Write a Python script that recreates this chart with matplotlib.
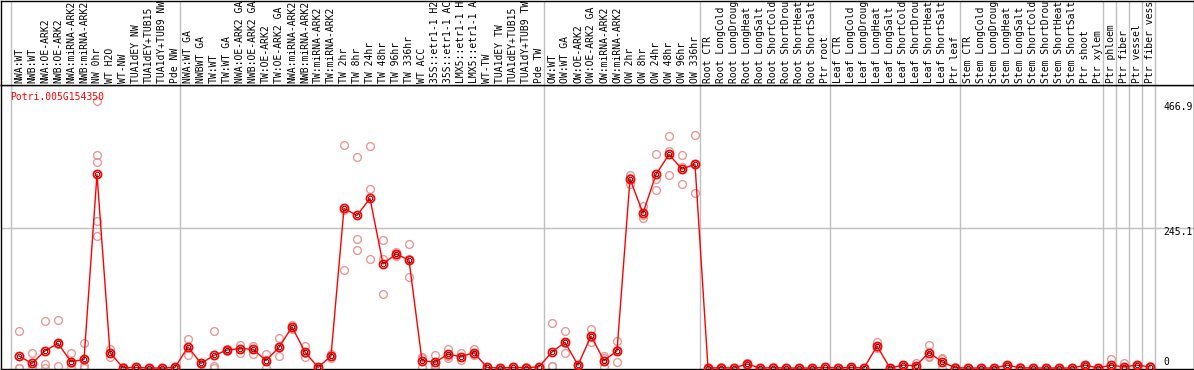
import matplotlib
matplotlib.use("Agg")
import matplotlib.pyplot as plt

title = "Potri.005G154350"

labels = [
    "NWA:WT", "NWB:WT", "NWA:OE-ARK2", "NWB:OE-ARK2", "NWA:miRNA-ARK2", "NWB:miRNA-ARK2",
    "NW 0hr", "WT H2O", "WT-NW", "TUA1dEY NW", "TUA1dEY+TUB15", "TUA1dY+TUB9 NW", "Pde NW",
    "NWA:WT GA", "NWBWT GA", "TW:WT", "TW:WT GA", "NWA:OE-ARK2 GA", "NWB:OE-ARK2 GA",
    "TW:OE-ARK2", "TW:OE-ARK2 GA", "NWA:miRNA-ARK2", "NWB:miRNA-ARK2", "TW:miRNA-ARK2",
    "TW:miRNA-ARK2", "TW 2hr", "TW 8hr", "TW 24hr", "TW 48hr", "TW 96hr", "TW 336hr",
    "WT ACC", "35S::etr1-1 H2O", "35S::etr1-1 ACC", "LMX5::etr1-1 H2O", "LMX5::etr1-1 ACC",
    "WT-TW", "TUA1dEY TW", "TUA1dEY+TUB15", "TUA1dY+TUB9 TW", "Pde TW",
    "OW:WT", "OW:WT GA", "OW:OE-ARK2", "OW:OE-ARK2 GA", "OW:miRNA-ARK2", "OW:miRNA-ARK2",
    "OW 2hr", "OW 8hr", "OW 24hr", "OW 48hr", "OW 96hr", "OW 336hr",
    "Root CTR", "Root LongCold", "Root LongDrought", "Root LongHeat", "Root LongSalt",
    "Root ShortCold", "Root ShortDrought", "Root ShortHeat", "Root ShortSalt", "Ptr root",
    "Leaf CTR", "Leaf LongCold", "Leaf LongDrought", "Leaf LongHeat", "Leaf LongSalt",
    "Leaf ShortCold", "Leaf ShortDrought", "Leaf ShortHeat", "Leaf ShortSalt", "Ptr leaf",
    "Stem CTR", "Stem LongCold", "Stem LongDrought", "Stem LongHeat", "Stem LongSalt",
    "Stem ShortCold", "Stem ShortDrought", "Stem ShortHeat", "Stem ShortSalt", "Ptr shoot",
    "Ptr xylem", "Ptr phloem", "Ptr fiber", "Ptr vessel", "Ptr fiber vessel",
]

# group start indices (separator lines drawn before these)
group_starts = [0, 13, 41, 53, 63, 73, 84, 85, 86, 87, 88]

means = [
    21, 8, 30, 43, 11, 15, 339, 27, 0.5, 1, 0, 0, 1,
    37, 8, 22, 31.5, 34, 33, 13, 36, 72, 28, 1, 21,
    279.5, 267, 297, 182, 199.6, 189, 13, 10, 24, 20, 27, 1, 0, 1, 0.5, 2,
    28, 45, 5, 56, 13, 30, 331, 271, 339, 374, 348, 357,
    0, 0.5, 0, 7, 0, 0.5, 0, 0, 0, 1,
    0, 1, 0, 38.5, 0, 5, 4, 27, 11, 0.5,
    0, 0, 0, 5, 0.5, 0, 0, 0, 0, 5, 0,
    5, 2, 5, 2,
]

replicates = [
    [65, 0, 0], [26, 0, 0], [82, 7, 0], [84, 3.5, 42], [26, 9, 0], [43, 4, 0],
    [466.9, 373, 361, 257, 231], [34, 20, 27], [0, 0, 1], [1, 1, 0], [0, 0, 0], [0, 0, 0], [1, 1, 0],
    [51, 22, 37], [9, 8, 7], [65, 3.5, 0], [33, 30, 31], [40, 27, 34], [39, 25, 34],
    [24.5, 0, 14], [52, 21, 36], [68, 72, 76], [38.5, 19, 27], [1, 1, 0], [24.5, 17, 21],
    [390, 276.6, 171], [369, 226, 206], [388.7, 312.8, 190.8], [224, 191, 129.6],
    [203, 196, 200], [217, 158.6, 190], [20, 1, 18], [23, 1, 6], [34, 17, 21], [26, 14, 20],
    [34, 25, 22], [1, 1, 1], [0, 0, 0], [1, 1, 1], [0, 1, 0.5], [2, 2, 2],
    [78, 3, 3], [65, 26, 44], [5, 5, 5], [68, 45, 55], [21, 1, 17], [47, 10.5, 32],
    [338, 323, 332], [283, 263, 267], [374, 331, 311.6], [406, 380, 338],
    [373, 352, 321.6], [408, 306, 357],
    [0, 0, 0], [1, 0.5, 0], [0, 0, 0], [9, 6, 6], [0, 0, 0], [1, 0.5, 0], [0, 0, 0],
    [0, 0, 0], [0, 0, 0], [1, 1, 1],
    [0, 0, 0], [2, 1, 0], [0, 0, 0], [45, 35, 36], [0, 0, 0], [5, 5, 5], [8, 2, 2],
    [40, 20, 21], [18, 0, 15], [1, 0.5, 0],
    [0, 0, 0], [0, 0, 0], [0, 0, 0], [6, 5, 4], [1, 0.5, 0], [0, 0, 0], [0, 0, 0],
    [0, 0, 0], [0, 0, 0], [6, 5, 4], [0, 0, 0],
    [15, 0, 0], [8, 0, 0], [6, 4, 5], [3, 2, 1],
]

ymax_label = 466.9
ymid_label = 245.1

# ---------------------------------------------------------------
W, H = 1194, 370
fig = plt.figure(figsize=(W / 100, H / 100), dpi=100)
fig.patch.set_facecolor("white")

FONT = "DejaVu Sans Mono"
FS = 7.0
GRID = "#c0c0c0"
REP = "#e89898"

left = 0.5 / W
width = 1193 / W
plot_top_px = 85
plot_bot_px = 369
ax = fig.add_axes([left, (H - plot_bot_px) / H, width, (plot_bot_px - plot_top_px) / H])
axl = fig.add_axes([left, (H - plot_top_px) / H, width, (plot_top_px - 0.5) / H])

x0_px, step_px = 19.0, 13.0
xlim = ((0.5 - x0_px) / step_px, (1193.5 - x0_px) / step_px)
scale = 140.0 / ymid_label  # px per unit
ylim = (-(368 - plot_bot_px) / scale * -1 * -1 if False else -(plot_bot_px - 368) / scale,
        (368 - plot_top_px) / scale)

for a in (ax, axl):
    a.set_xlim(*xlim)
    a.set_xticks([])
    a.set_yticks([])
    for s in a.spines.values():
        s.set_color("black")
        s.set_linewidth(1.0)
    for g in group_starts:
        a.axvline(g - 0.62, color=GRID, lw=1.0, zorder=0)

ax.set_ylim(*ylim)
axl.set_ylim(0, 1)
ax.axhline(ymid_label, color=GRID, lw=1.0, zorder=0)

xs = list(range(len(means)))
for i, reps in enumerate(replicates):
    ax.plot([i] * len(reps), reps, linestyle="none", marker="o", ms=5.6,
            mfc="none", mec=REP, mew=1.0, zorder=2)
ax.plot(xs, means, color="#ff0000", lw=1.0, zorder=3)
ax.plot(xs, means, linestyle="none", marker="o", ms=5.8, mfc="none",
        mec="#ff0000", mew=1.3, zorder=4)
ax.plot(xs, means, linestyle="none", marker="o", ms=3.2, mfc="none",
        mec="#300000", mew=0.6, zorder=5)

ax.text(10 / W * 0 + (10 - 0.5) / 1193, 1 - (97 - plot_top_px) / (plot_bot_px - plot_top_px),
        title, transform=ax.transAxes, color="#ff0000", family=FONT, fontsize=FS,
        ha="left", va="center", zorder=6)

lab_y = (plot_top_px - 83) / (plot_top_px - 0.5)
for i, lab in enumerate(labels):
    axl.text(i, lab_y, lab, rotation=90, ha="center", va="bottom", family=FONT,
             fontsize=FS, color="black", clip_on=True)

for val, ypx in ((ymax_label, 107), (ymid_label, 232), (0, 362)):
    txt = f"{val:g}" if val == 0 else f"{val:.1f}"
    fig.text(1163 / W, 1 - ypx / H, txt, family=FONT, fontsize=FS, color="black",
             ha="left", va="center")

fig.savefig("out.png", dpi=100, facecolor="white")
